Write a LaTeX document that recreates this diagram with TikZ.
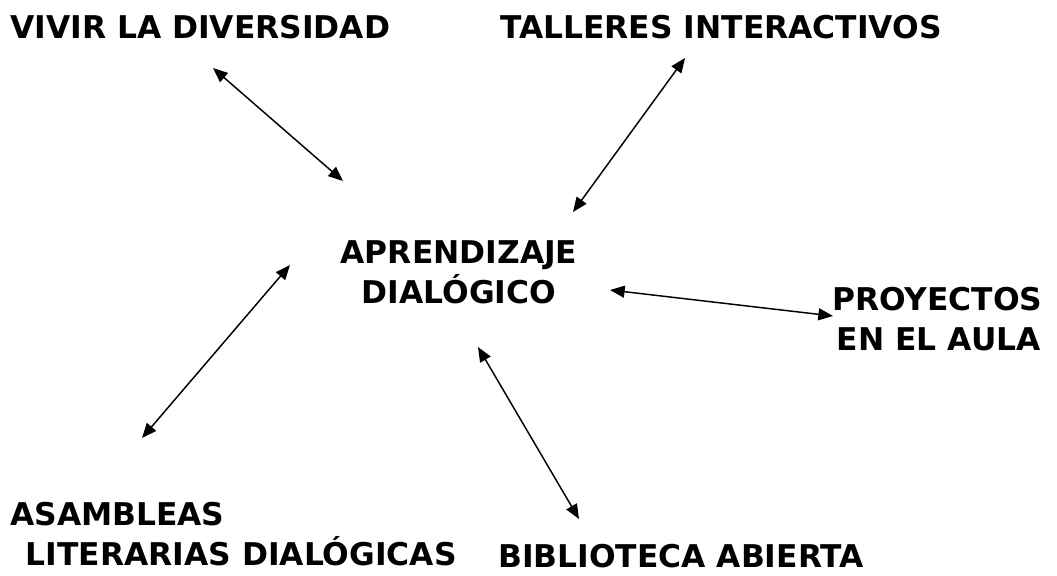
\documentclass[tikz,border=0pt]{standalone}
\usepackage{fontspec}
\setmainfont{DejaVu Sans}
\usetikzlibrary{arrows.meta}
\tikzset{
  lbl/.style={font=\fontsize{23.5}{30}\selectfont\bfseries, inner sep=0pt},
  arr/.style={{Triangle[length=11pt,width=9pt]}-{Triangle[length=11pt,width=9pt]}, line width=1.1pt}
}
\begin{document}
\begin{tikzpicture}[x=0.75pt,y=-0.75pt]
            \useasboundingbox (0,0) rectangle (1057,575);
            % labels
            \node[lbl,anchor=west] (viv) at (10,27) {VIVIR LA DIVERSIDAD};
            \node[lbl,anchor=west] (tal) at (500,27) {TALLERES INTERACTIVOS};
            \node[lbl,align=center] (apr) at (459,272) {APRENDIZAJE\\DIALÓGICO};
            \node[lbl,align=left,anchor=west] (pro) at (832,319) {PROYECTOS\\\hspace*{0.15em}EN EL AULA};
            \node[lbl,align=left,anchor=west] (asa) at (10,534) {ASAMBLEAS\\\hspace*{0.5em}LITERARIAS DIALÓGICAS};
            \node[lbl,anchor=west] (bib) at (498,556) {BIBLIOTECA ABIERTA};
            % arrow ends
            \coordinate (v1) at (213,68);
            \coordinate (v2) at (343,181);
            \coordinate (t1) at (685,58);
            \coordinate (t2) at (573,212);
            \coordinate (p1) at (610,290);
            \coordinate (p2) at (833,316);
            \coordinate (a1) at (290,265);
            \coordinate (a2) at (142,438);
            \coordinate (b1) at (478,347);
            \coordinate (b2) at (579,519);
            % arrows
            \draw[arr] (v1) -- (v2);
            \draw[arr] (t1) -- (t2);
            \draw[arr] (p1) -- (p2);
            \draw[arr] (a1) -- (a2);
            \draw[arr] (b1) -- (b2);
\end{tikzpicture}
\end{document}
